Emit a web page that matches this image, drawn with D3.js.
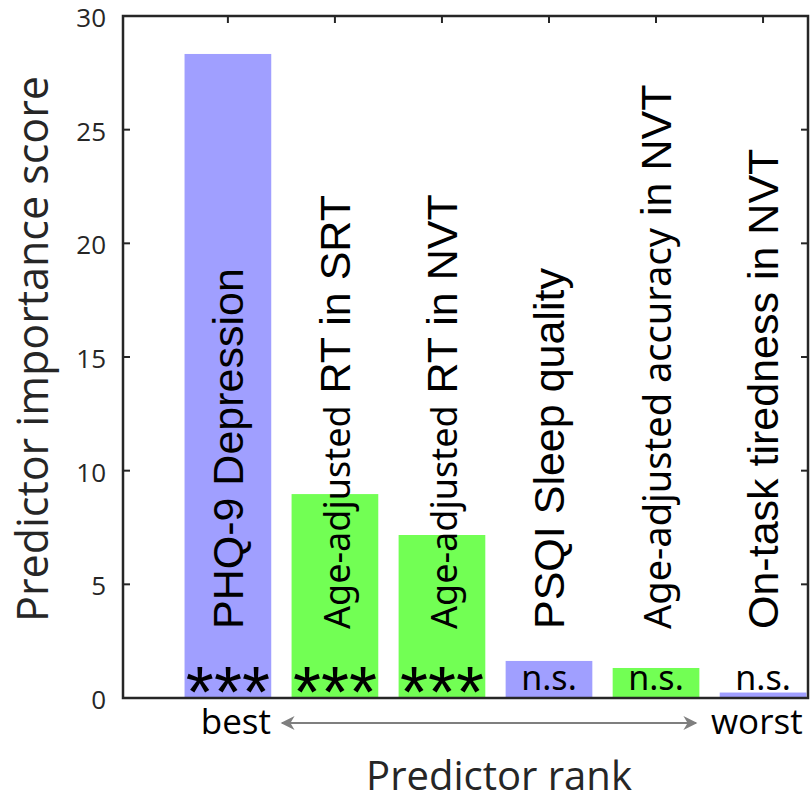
<!DOCTYPE html>
<html>
<head>
<meta charset="utf-8">
<style>
body { margin: 0; background: #fff; }
.frame { fill: none; stroke: #262626; stroke-width: 2.5; }
.tick line { stroke: #262626; stroke-width: 2; }
.ticklabel { font-family: "Open Sans", sans-serif; font-size: 26px; fill: #262626; }
.axtitle { font-family: "Open Sans", sans-serif; font-size: 40px; fill: #262626; }
.ytitle { font-size: 43px; }
.small { font-family: "Noto Sans", sans-serif; font-size: 36px; }
.small.wide { font-size: 38px; }
.large { font-family: "Liberation Sans", Arial, sans-serif; font-size: 43px; }
.sig { font-family: "Noto Sans", sans-serif; font-size: 34px; fill: #000; }
.stars { font-family: "Liberation Sans", Arial, sans-serif; font-size: 72px; fill: #000; }
.rank { font-family: "Open Sans", sans-serif; font-size: 35px; fill: #000; }
</style>
</head>
<body>
<svg width="812" height="812"></svg>
<script src="https://d3js.org/d3.v7.min.js"></script>
<script>
  var ranks = [1, 2, 3, 4, 5, 6];
  var scores = [28.33, 8.97, 7.17, 1.63, 1.32, 0.24];
  var groups = ["blue", "green", "green", "blue", "green", "blue"];
  var labelSmall = ["", "Age-adjusted", "Age-adjusted", "", "Age-adjusted accuracy", ""];
  var labelLarge = ["PHQ-9 Depression", " RT in SRT", " RT in NVT", "PSQI Sleep quality", " in NVT", "On-task tiredness in NVT"];
  var signif = ["***", "***", "***", "n.s.", "n.s.", "n.s."];
  var yTicks = [0, 5, 10, 15, 20, 25, 30];

  var svg = d3.select("svg");

  var x = d3.scaleLinear().domain([0.02, 6.42]).range([123, 808]);
  var y = d3.scaleLinear().domain([0, 30]).range([698, 16]);
  var color = d3.scaleOrdinal().domain(["blue", "green"]).range(["#a09fff", "#72ff54"]);
  var barW = x(0.81) - x(0);

  // bars
  svg.append("g").selectAll("rect")
    .data(ranks)
    .enter().append("rect")
    .attr("x", function(d) { return x(d) - barW / 2; })
    .attr("width", barW)
    .attr("y", function(d, i) { return y(scores[i]); })
    .attr("height", function(d, i) { return y(0) - y(scores[i]); })
    .attr("fill", function(d, i) { return color(groups[i]); });

  // frame and ticks
  svg.append("rect").attr("class", "frame")
    .attr("x", x.range()[0]).attr("y", y.range()[1])
    .attr("width", x.range()[1] - x.range()[0])
    .attr("height", y.range()[0] - y.range()[1]);

  var tk = svg.append("g").attr("class", "tick");
  tk.selectAll(".yl").data(yTicks).enter().append("line")
    .attr("x1", x.range()[0]).attr("x2", x.range()[0] + 7)
    .attr("y1", function(d) { return y(d); }).attr("y2", function(d) { return y(d); });
  tk.selectAll(".yr").data(yTicks).enter().append("line")
    .attr("x1", x.range()[1]).attr("x2", x.range()[1] - 7)
    .attr("y1", function(d) { return y(d); }).attr("y2", function(d) { return y(d); });
  tk.selectAll(".xt").data(ranks).enter().append("line")
    .attr("x1", function(d) { return x(d); }).attr("x2", function(d) { return x(d); })
    .attr("y1", y.range()[1]).attr("y2", y.range()[1] + 7);

  svg.append("g").selectAll("text")
    .data(yTicks)
    .enter().append("text")
    .attr("class", "ticklabel")
    .attr("x", x.range()[0] - 17)
    .attr("y", function(d) { return y(d) + 11; })
    .attr("text-anchor", "end")
    .text(function(d) { return d; });

  // predictor labels inside bars
  var lab = svg.append("g").selectAll("text")
    .data(ranks)
    .enter().append("text")
    .attr("transform", function(d) { return "translate(" + (x(d) + 15) + "," + (y(0) - 69) + ") rotate(-90)"; })
    .attr("fill", "#000");
  lab.append("tspan")
    .attr("class", function(d, i) { return labelSmall[i].length > 15 ? "small wide" : "small"; })
    .text(function(d, i) { return labelSmall[i]; });
  lab.append("tspan").attr("class", "large").attr("xml:space", "preserve")
    .style("white-space", "pre")
    .text(function(d, i) { return labelLarge[i]; });

  // significance marks
  svg.append("g").selectAll("text")
    .data(ranks)
    .enter().append("text")
    .attr("class", function(d, i) { return signif[i] === "***" ? "stars" : "sig"; })
    .attr("x", function(d) { return x(d); })
    .attr("y", function(d, i) { return signif[i] === "***" ? y(0) + 19 : y(0) - 8; })
    .attr("text-anchor", "middle")
    .text(function(d, i) { return signif[i]; });

  // best / worst arrow
  var defs = svg.append("defs");
  ["s", "e"].forEach(function(k) {
    defs.append("marker")
      .attr("id", "arr-" + k)
      .attr("viewBox", "0 0 10 10")
      .attr("refX", 9).attr("refY", 5)
      .attr("markerWidth", 16).attr("markerHeight", 14)
      .attr("markerUnits", "userSpaceOnUse")
      .attr("orient", k === "s" ? "auto-start-reverse" : "auto")
      .append("path").attr("d", "M0,0 L10,5 L0,10 L3,5 Z").attr("fill", "#7f7f7f");
  });
  svg.append("line")
    .attr("x1", 282).attr("x2", 696)
    .attr("y1", y(0) + 25).attr("y2", y(0) + 25)
    .attr("stroke", "#7f7f7f").attr("stroke-width", 2)
    .attr("marker-start", "url(#arr-s)").attr("marker-end", "url(#arr-e)");

  svg.append("text").attr("class", "rank")
    .attr("x", 271).attr("y", y(0) + 36).attr("text-anchor", "end").text("best");
  svg.append("text").attr("class", "rank")
    .attr("x", 711).attr("y", y(0) + 36).text("worst");

  // axis titles
  svg.append("text").attr("class", "axtitle ytitle")
    .attr("transform", "translate(48," + (y(15) - 8) + ") rotate(-90)")
    .attr("text-anchor", "middle")
    .text("Predictor importance score");
  svg.append("text").attr("class", "axtitle")
    .attr("x", 499).attr("y", 790)
    .attr("text-anchor", "middle")
    .text("Predictor rank");
</script>
</body>
</html>
